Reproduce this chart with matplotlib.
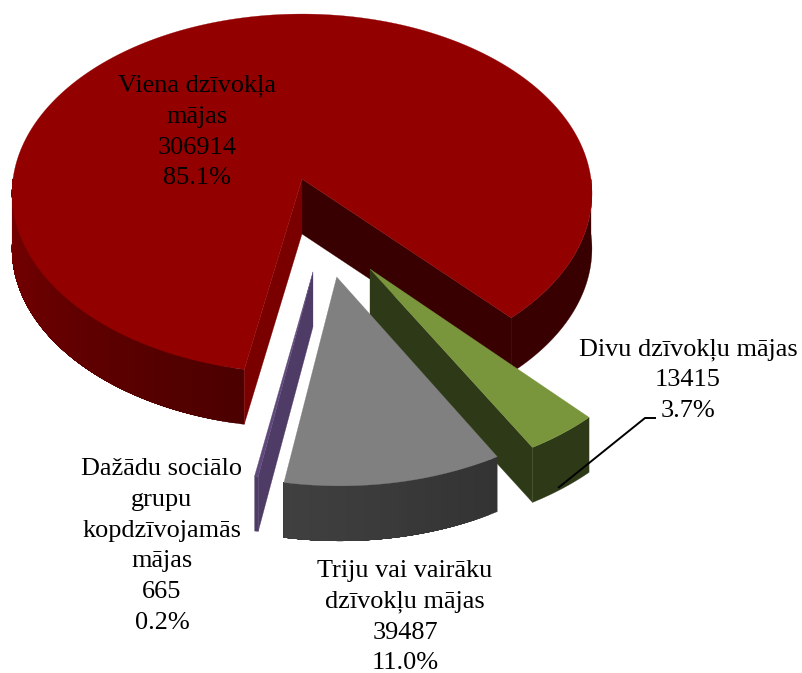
import numpy as np
import matplotlib
matplotlib.use("Agg")
import matplotlib.pyplot as plt
from matplotlib.colors import to_rgb

# data
categories = ["Divu dzīvokļu mājas", "Triju vai vairāku\ndzīvokļu mājas",
              "Dažādu sociālo\ngrupu\nkopdzīvojamās\nmājas", "Viena dzīvokļa\nmājas"]
values = [13415, 39487, 665, 306914]
percent_labels = ["3.7%", "11.0%", "0.2%", "85.1%"]

# style / layout
colors_top = ["#7a963c", "#808080", "#5f497a", "#930000"]
explode_x = [0.226, 0.115, 0.0365, 0.0]
explode_y = [0.485, 0.526, 0.50, 0.0]
radii = [0.985, 0.985, 0.985, 1.0]
label_pos = [(688, 380), (405, 617), (162, 546), (197, 132)]
START = 42.9
AX, AY = 302.0, 179.0
F, A, B = 289.0, 178.3, 0.0808
DEPTH = 55.0
FONT = "Liberation Serif"

fig = plt.figure(figsize=(8.03, 6.73), dpi=100)
ax = fig.add_axes([0, 0, 1, 1])
ax.set_xlim(0, 803)
ax.set_ylim(673, 0)
ax.axis("off")


def project(X, Y):
    d = 1 - B * Y
    return AX + F * X / d, AY + A * Y / d


def rim(phi, i):
    p = np.radians(phi)
    return project(explode_x[i] + radii[i] * np.sin(p), explode_y[i] + radii[i] * np.cos(p))


def apex(i):
    return project(explode_x[i], explode_y[i])


def fill(xs, ys, color, z):
    ax.fill(xs, ys, facecolor=color, edgecolor=color, linewidth=0.2, zorder=z)


def wall(phi, i, color, z):
    x0, y0 = apex(i)
    x1, y1 = rim(phi, i)
    fill([x0, x1, x1, x0], [y0, y1, y1 + DEPTH, y0 + DEPTH], color, z)


def side(phi0, phi1, i, c0, c1, z, steps=1):
    # painter's order: every band reaches to the far end, so no seams show
    a, b = to_rgb(c0), to_rgb(c1)
    for k in range(steps):
        t = k / max(1, steps - 1)
        col = tuple((1 - t) * u + t * v for u, v in zip(a, b))
        pa = np.linspace(phi0 + (phi1 - phi0) * k / steps, phi1, 120)
        x, y = rim(pa, i)
        ax.fill(np.r_[x, x[::-1]], np.r_[y, y[::-1] + DEPTH], facecolor=col,
                edgecolor=col, linewidth=0.2, zorder=z)


def top(phi0, phi1, i, z):
    pa = np.linspace(phi0, phi1, 300)
    x, y = rim(pa, i)
    x0, y0 = apex(i)
    fill(np.r_[x0, x], np.r_[y0, y], colors_top[i], z)


sweep = 360.0 * np.array(values) / sum(values)
ends = START - np.cumsum(sweep)
starts = np.r_[START, ends[:-1]]

# Red slice (index 3)
s, e = starts[3], ends[3]
side(s, -90, 3, "#4c0000", "#7a0000", 1, steps=40)
side(e, -270, 3, "#380000", "#380000", 1)
wall(e, 3, "#380000", 1)
wall(s, 3, "#7a0000", 2)
top(s, e, 3, 3)

# Green slice
wall(ends[0], 0, "#2e3a17", 4)
side(starts[0], ends[0], 0, "#2e3a17", "#2e3a17", 4)
top(starts[0], ends[0], 0, 5)

# Grey slice
side(starts[1], ends[1], 1, "#333333", "#404040", 6, steps=25)
top(starts[1], ends[1], 1, 7)

# Purple slice
wall(starts[2], 2, "#4e3b66", 6)
side(starts[2], ends[2], 2, "#4e3b66", "#4e3b66", 6)
top(starts[2], ends[2], 2, 7)

# Leader line
ax.plot([558, 645, 656], [488, 418, 418], color="black", lw=1.4, zorder=8,
        solid_capstyle="butt", solid_joinstyle="miter")

# Labels
for cat, val, pct, (lx, ly) in zip(categories, values, percent_labels, label_pos):
    ax.text(lx, ly, f"{cat}\n{val}\n{pct}", ha="center", va="center", multialignment="center",
            family=FONT, fontsize=18.9, color="black", linespacing=1.515, zorder=9)

fig.savefig("out.png", dpi=100)
